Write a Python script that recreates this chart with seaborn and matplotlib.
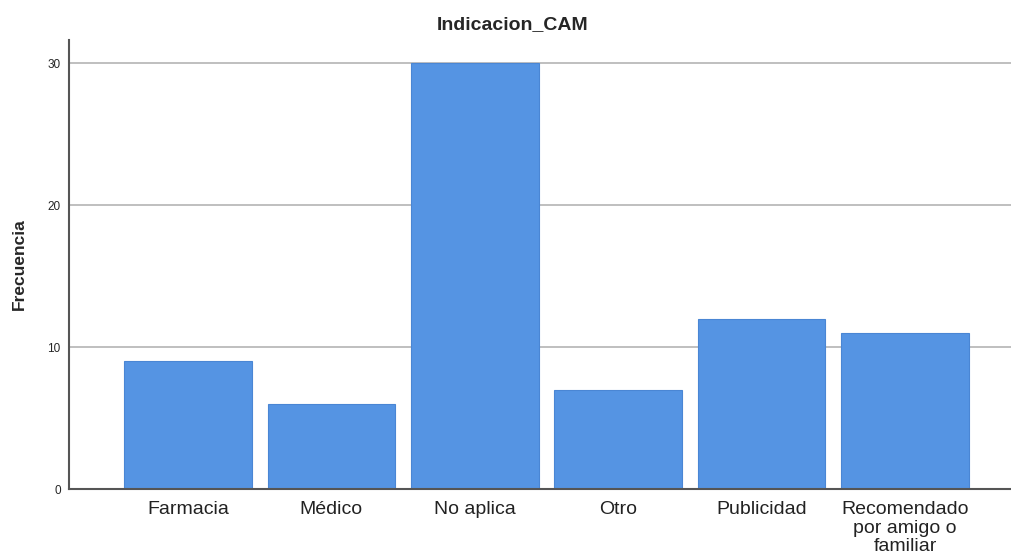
import matplotlib
matplotlib.use("Agg")
import matplotlib.pyplot as plt
import seaborn as sns
import pandas as pd

categories = ["Farmacia", "Médico", "No aplica", "Otro", "Publicidad",
              "Recomendado\npor amigo o\nfamiliar"]
values = [9, 6, 30, 7, 12, 11]
yticks = [0, 10, 20, 30]

sns.set_style("white")
plt.rcParams["font.family"] = ["Liberation Sans", "DejaVu Sans"]

df = pd.DataFrame({"cat": categories, "val": values})

fig = plt.figure(figsize=(10.12, 5.54), dpi=100)
ax = fig.add_axes([69/1012, 1-489/554, 1-69/1012, (489-40)/554])

for y in yticks[1:]:
    ax.axhline(y, color="#b4b4b4", lw=1.2, zorder=0)

sns.barplot(data=df, x="cat", y="val", color="#5594e3", saturation=1,
            width=0.89, edgecolor="#4a86d4", linewidth=0.8, ax=ax, zorder=2)

ax.set_xlim(-0.83, 5.746)
ax.set_ylim(0, 31.62)
ax.set_yticks(yticks)
ax.set_yticklabels([str(v) for v in yticks], fontsize=8.5)
ax.tick_params(axis="both", length=0, pad=6)
ax.tick_params(axis="x", labelsize=14, pad=9)
for lbl in ax.get_xticklabels():
    lbl.set_linespacing(1.1)
    lbl.set_color("#222222")
ax.set_xlabel("")
ax.set_ylabel("Frecuencia", fontsize=12.5, fontweight="bold", labelpad=15)
for s in ["top", "right"]:
    ax.spines[s].set_visible(False)
for s in ["left", "bottom"]:
    ax.spines[s].set_color("#555555")
    ax.spines[s].set_linewidth(1.5)
ax.grid(False)

fig.text(513/1012, 1-25/554, "Indicacion_CAM", ha="center", va="center",
         fontsize=14, fontweight="bold")

fig.savefig("out.png", dpi=100)
